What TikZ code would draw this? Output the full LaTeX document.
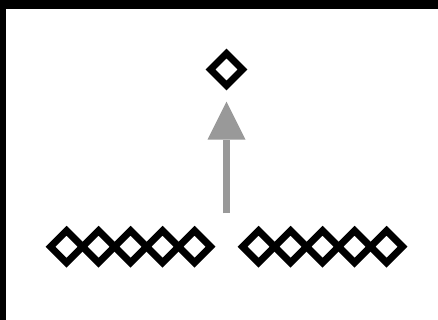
\documentclass[tikz,border=0pt]{standalone}
\usepackage{tikz}
\usetikzlibrary{arrows.meta,shapes.geometric}
\definecolor{FrameDark}{HTML}{000000}
\definecolor{ArrowGray}{HTML}{999999}

\begin{document}
\begin{tikzpicture}[
    x=1pt, y=-1pt,
    token/.style={
        diamond,
        draw=black,
        line width=7pt,
        minimum width=32pt,
        minimum height=32pt,
        inner sep=0pt,
        outer sep=0pt
    },
    lift/.style={
        draw=ArrowGray,
        line width=7.3pt,
        -{Triangle[width=38pt,length=38pt,line width=0pt]}
    }
]
    % frame
    \fill[FrameDark] (0,0) rectangle (438,320);
    \fill[white] (6,9.3) rectangle (438,320);

    % single token on top
    \node[token] (top) at (226.5,69.5) {};

    % two rows of tokens
    \foreach \i in {1,...,5} {
        \node[token] (l\i) at ({66.5+32*(\i-1)},246.7) {};
        \node[token] (r\i) at ({258.5+32*(\i-1)},246.7) {};
    }

    \coordinate (tail) at (226.5,213.3);
    \draw[lift, shorten >=16.2pt] (tail) -- (top);
\end{tikzpicture}
\end{document}
